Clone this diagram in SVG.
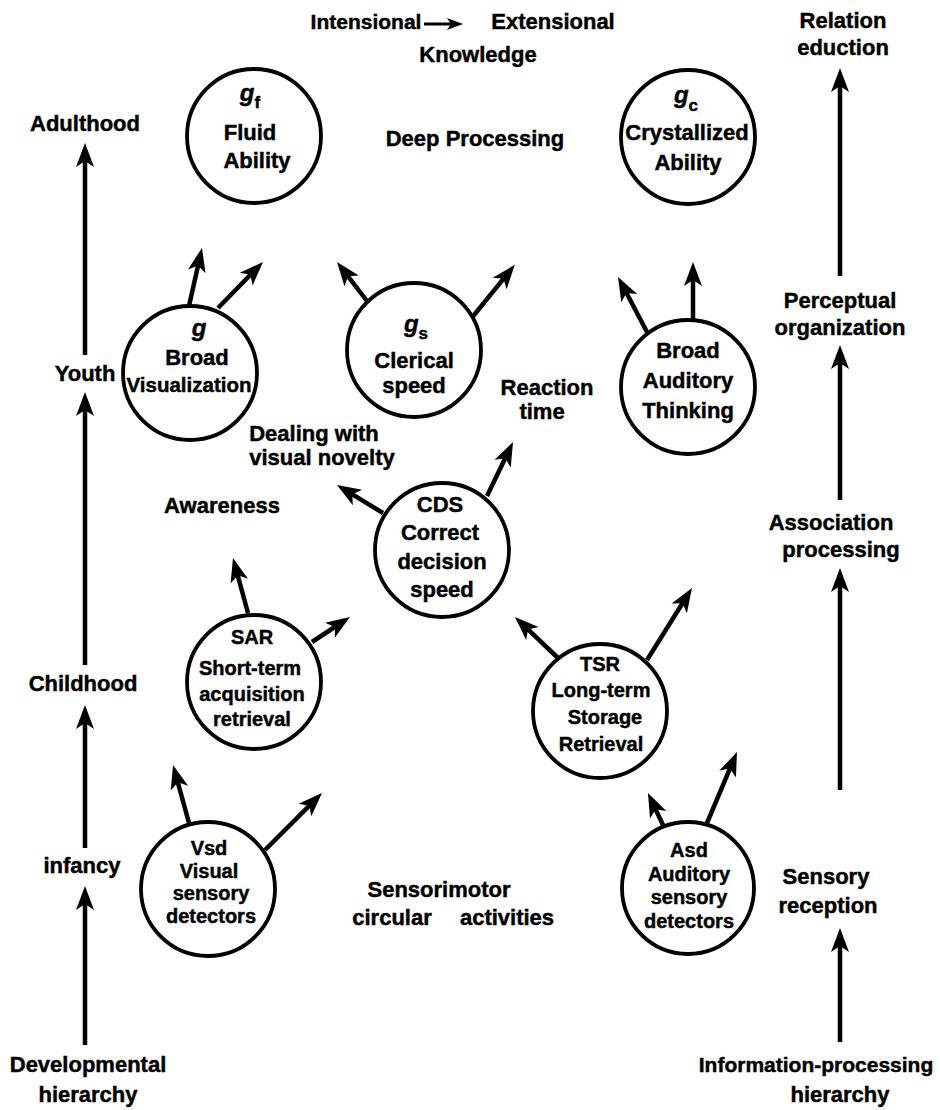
<svg xmlns="http://www.w3.org/2000/svg" width="940" height="1110" viewBox="0 0 940 1110">
<defs>
<style>
.t{font-family:"Liberation Sans",Arial,Helvetica,sans-serif;font-weight:bold;font-size:22px;fill:#000;stroke:#000;stroke-width:0.45;text-anchor:middle}
.s{font-size:20px}
.gi{font-style:italic;font-size:24px}
.sub{font-size:17px;font-style:normal}
.node circle{fill:#fff;stroke:#000;stroke-width:3.8}
.arr line{stroke:#000;stroke-width:4.5;marker-end:url(#ah)}
</style>
<marker id="ah" markerUnits="userSpaceOnUse" markerWidth="26" markerHeight="22" refX="14" refY="10" orient="auto">
<path d="M0,1 L24,10 L0,19 L6,10 Z" fill="#000"/>
</marker>
<marker id="ah2" markerUnits="userSpaceOnUse" markerWidth="18" markerHeight="16" refX="10" refY="7" orient="auto">
<path d="M0,1 L16,7 L0,13 L4,7 Z" fill="#000"/>
</marker>
</defs>
<rect width="940" height="1110" fill="#fff"/>

<g id="connectors" class="arr">
<line x1="85" y1="355" x2="85" y2="153"/>
<line x1="85" y1="665" x2="85" y2="402"/>
<line x1="85" y1="848" x2="85" y2="715"/>
<line x1="85" y1="1045" x2="85" y2="896"/>
<line x1="840" y1="276" x2="840" y2="78"/>
<line x1="840" y1="500" x2="840" y2="355"/>
<line x1="840" y1="790" x2="840" y2="578"/>
<line x1="840" y1="1042" x2="840" y2="938"/>
<line x1="189" y1="306" x2="199.8" y2="257.7"/>
<line x1="218" y1="308" x2="256" y2="269.1"/>
<line x1="370" y1="305" x2="343.1" y2="269.9"/>
<line x1="470" y1="320" x2="508.5" y2="272.6"/>
<line x1="693" y1="320" x2="693" y2="272"/>
<line x1="647" y1="332" x2="622.7" y2="285.8"/>
<line x1="383" y1="513" x2="345.5" y2="490.2"/>
<line x1="487" y1="496" x2="508.7" y2="451"/>
<line x1="248" y1="613" x2="235.6" y2="567.6"/>
<line x1="312" y1="642" x2="341.6" y2="622.5"/>
<line x1="558" y1="658" x2="522.2" y2="623.9"/>
<line x1="647" y1="660" x2="686.7" y2="596.5"/>
<line x1="189" y1="823" x2="175.7" y2="774.6"/>
<line x1="265" y1="850" x2="314.9" y2="800.1"/>
<line x1="663" y1="825" x2="652.2" y2="802.1"/>
<line x1="707" y1="823" x2="733.1" y2="761.2"/>
<line x1="424" y1="24" x2="457" y2="24" style="stroke-width:3.2;marker-end:url(#ah2)"/>
</g>

<g id="labels">
<text class="t" x="366" y="29" style="font-size:21px">Intensional</text>
<text class="t" x="553" y="29">Extensional</text>
<text class="t" x="478" y="62">Knowledge</text>
<text class="t" x="475" y="146">Deep Processing</text>
<text class="t" x="547" y="395">Reaction</text>
<text class="t" x="542" y="419">time</text>
<text class="t" x="314" y="441">Dealing with</text>
<text class="t" x="322" y="465">visual novelty</text>
<text class="t" x="222" y="513">Awareness</text>
<text class="t" x="439" y="897">Sensorimotor</text>
<text class="t" x="392" y="925">circular</text>
<text class="t" x="507" y="925">activities</text>
</g>

<g id="developmental">
<text class="t" x="85" y="131">Adulthood</text>
<text class="t" x="85" y="381">Youth</text>
<text class="t" x="83" y="691">Childhood</text>
<text class="t" x="82" y="873">infancy</text>
<text class="t" x="88" y="1072">Developmental</text>
<text class="t" x="88" y="1102">hierarchy</text>
</g>

<g id="information-processing">
<text class="t" x="843" y="28">Relation</text>
<text class="t" x="843" y="55">eduction</text>
<text class="t" x="840" y="308">Perceptual</text>
<text class="t" x="840" y="335">organization</text>
<text class="t" x="831" y="530">Association</text>
<text class="t" x="841" y="557">processing</text>
<text class="t" x="826" y="884">Sensory</text>
<text class="t" x="828" y="913">reception</text>
<text class="t" x="816" y="1072" style="font-size:21px">Information-processing</text>
<text class="t" x="840" y="1102">hierarchy</text>
</g>

<g id="node-gf" class="node">
<circle cx="254" cy="136" r="67"/>
<text class="t" x="250" y="101"><tspan class="gi">g</tspan><tspan class="sub" dy="7">f</tspan></text>
<text class="t" x="250" y="140">Fluid</text>
<text class="t" x="257" y="168">Ability</text>
</g>

<g id="node-gc" class="node">
<circle cx="688" cy="137" r="67"/>
<text class="t" x="686" y="103"><tspan class="gi">g</tspan><tspan class="sub" dy="8">c</tspan></text>
<text class="t" x="687" y="140">Crystallized</text>
<text class="t" x="688" y="170">Ability</text>
</g>

<g id="node-broad-visualization" class="node">
<circle cx="190" cy="373" r="67"/>
<text class="t" x="199" y="336"><tspan class="gi">g</tspan></text>
<text class="t" x="197" y="365">Broad</text>
<text class="t" x="189" y="392" style="font-size:20.5px">Visualization</text>
</g>

<g id="node-gs" class="node">
<circle cx="414" cy="350" r="67"/>
<text class="t" x="416" y="332"><tspan class="gi">g</tspan><tspan class="sub" dy="7">s</tspan></text>
<text class="t" x="414" y="368">Clerical</text>
<text class="t" x="414" y="393">speed</text>
</g>

<g id="node-broad-auditory" class="node">
<circle cx="688" cy="387" r="67"/>
<text class="t" x="688" y="358">Broad</text>
<text class="t" x="688" y="388">Auditory</text>
<text class="t" x="688" y="418">Thinking</text>
</g>

<g id="node-cds" class="node">
<circle cx="442" cy="550" r="67"/>
<text class="t" x="440" y="512">CDS</text>
<text class="t" x="440" y="540">Correct</text>
<text class="t" x="442" y="569">decision</text>
<text class="t" x="442" y="597">speed</text>
</g>

<g id="node-sar" class="node">
<circle cx="254" cy="682" r="67"/>
<text class="t s" x="252" y="644">SAR</text>
<text class="t s" x="250" y="675">Short-term</text>
<text class="t s" x="252" y="701">acquisition</text>
<text class="t s" x="252" y="726">retrieval</text>
</g>

<g id="node-tsr" class="node">
<circle cx="600" cy="711" r="67"/>
<text class="t s" x="600" y="671">TSR</text>
<text class="t s" x="601" y="697">Long-term</text>
<text class="t s" x="605" y="724">Storage</text>
<text class="t s" x="601" y="751">Retrieval</text>
</g>

<g id="node-vsd" class="node">
<circle cx="208" cy="889" r="67"/>
<text class="t s" x="209" y="855">Vsd</text>
<text class="t s" x="209" y="878">Visual</text>
<text class="t s" x="211" y="900">sensory</text>
<text class="t s" x="211" y="923">detectors</text>
</g>

<g id="node-asd" class="node">
<circle cx="688" cy="888" r="66"/>
<text class="t s" x="689" y="857">Asd</text>
<text class="t s" x="689" y="881">Auditory</text>
<text class="t s" x="689" y="904">sensory</text>
<text class="t s" x="689" y="928">detectors</text>
</g>
</svg>
